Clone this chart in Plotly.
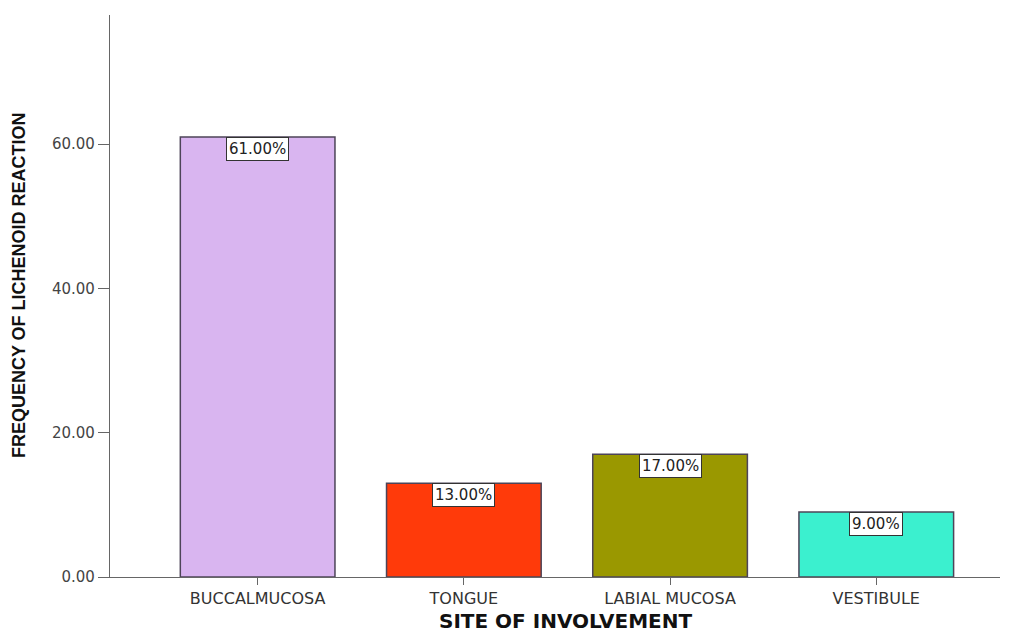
import plotly.graph_objects as go

# Site of involvement vs frequency of lichenoid reaction (%)
sites = ["BUCCALMUCOSA", "TONGUE", "LABIAL MUCOSA", "VESTIBULE"]
frequency = [61.0, 13.0, 17.0, 9.0]
bar_colors = ["#D9B5F0", "#FF3A0A", "#9A9800", "#3BF0CF"]
y_ticks = [0, 20, 40, 60]
y_tick_labels = ["0.00", "20.00", "40.00", "60.00"]

positions = list(range(len(sites)))
font = "DejaVu Sans, Liberation Sans, Arial, sans-serif"
title_font = "Liberation Sans, Arial, sans-serif"

fig = go.Figure(
    go.Bar(
        x=positions,
        y=frequency,
        width=0.75,
        marker=dict(color=bar_colors, line=dict(color="#4d4458", width=1.5)),
        hoverinfo="skip",
    )
)

# value boxes hanging from the top edge of each bar
for xi, v in zip(positions, frequency):
    fig.add_annotation(
        x=xi, y=v, xref="x", yref="y",
        text=f"{v:.2f}%", showarrow=False,
        yanchor="top", xanchor="center",
        bgcolor="white", bordercolor="#333333", borderwidth=1, borderpad=2,
        font=dict(family=font, size=15, color="#222222"),
    )

# axis titles
fig.add_annotation(
    x=0.512, y=-0.0775, xref="paper", yref="paper",
    text="<b>SITE OF INVOLVEMENT</b>", showarrow=False,
    xanchor="center", yanchor="middle", borderpad=0,
    font=dict(family=font, size=20, color="#111111"),
)
fig.add_annotation(
    x=-0.103, y=0.52, xref="paper", yref="paper",
    text="<b>FREQUENCY OF LICHENOID REACTION</b>", showarrow=False,
    textangle=-90, xanchor="center", yanchor="middle",
    font=dict(family=title_font, size=18, color="#111111"),
)

fig.update_layout(
    width=1011, height=633,
    margin=dict(l=110, r=11, t=15, b=56),
    paper_bgcolor="white", plot_bgcolor="white",
    showlegend=False,
    font=dict(family=font),
    xaxis=dict(
        range=[-0.716, 3.60],
        tickmode="array", tickvals=positions, ticktext=sites,
        showline=True, linecolor="#666666", linewidth=1.2,
        ticks="outside", ticklen=7, tickcolor="#666666",
        showgrid=False, zeroline=False,
        tickfont=dict(family=font, size=16, color="#333333"),
    ),
    yaxis=dict(
        range=[0, 77.9],
        tickmode="array", tickvals=y_ticks, ticktext=y_tick_labels,
        showline=True, linecolor="#666666", linewidth=1.2,
        ticks="outside", ticklen=11, tickcolor="#666666",
        showgrid=False, zeroline=False,
        tickfont=dict(family=font, size=15, color="#444444"),
    ),
)

fig.write_html("out.html")
